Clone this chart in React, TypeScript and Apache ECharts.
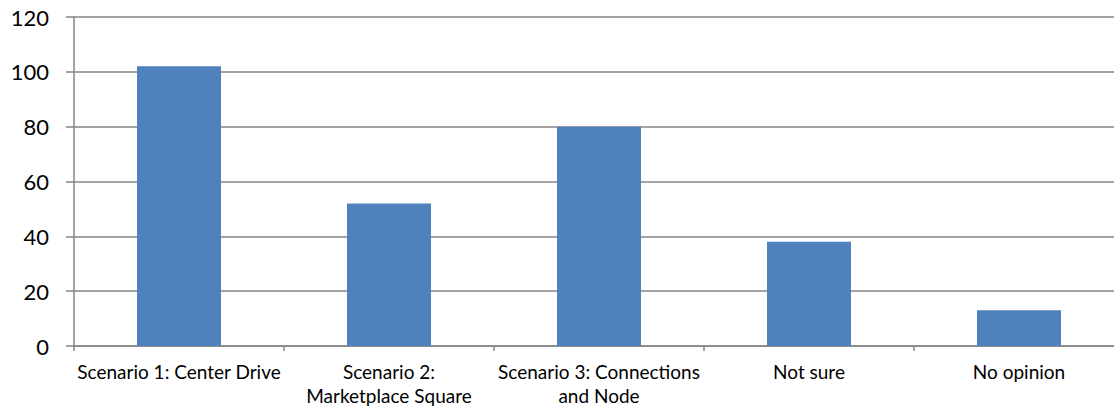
import React, { useEffect, useRef } from "react";
import * as echarts from "echarts";

const categories = [
  "Scenario 1: Center Drive",
  "Scenario 2:\nMarketplace Square",
  "Scenario 3: Connections\nand Node",
  "Not sure",
  "No opinion",
];
const responses = [102, 52, 80, 38, 13];
const yTicks = { min: 0, max: 120, interval: 20 };

export default function App() {
  const ref = useRef<HTMLDivElement>(null);

  useEffect(() => {
    if (!ref.current) return;
    const chart = echarts.init(ref.current, undefined, { renderer: "svg" });
    chart.setOption({
      animation: false,
      backgroundColor: "#ffffff",
      grid: { left: 74, right: 0, top: 17, bottom: 65, containLabel: false },
      xAxis: {
        type: "category",
        data: categories,
        boundaryGap: true,
        axisLine: { lineStyle: { color: "#868686", width: 1.5 } },
        axisTick: { show: true, alignWithLabel: false, length: 5, lineStyle: { color: "#868686", width: 1.5 } },
        axisLabel: {
          interval: 0,
          color: "#000000",
          fontFamily: "Lato",
          fontSize: 19,
          lineHeight: 24,
          margin: 13,
          align: "center",
        },
      },
      yAxis: {
        type: "value",
        min: yTicks.min,
        max: yTicks.max,
        interval: yTicks.interval,
        axisLine: { show: true, lineStyle: { color: "#868686", width: 1.5 } },
        axisTick: { show: true, length: 8, inside: false, lineStyle: { color: "#868686", width: 1.5 } },
        splitLine: { show: true, lineStyle: { color: "#868686", width: 1.5 } },
        axisLabel: {
          color: "#000000",
          fontFamily: "Lato",
          fontSize: 22,
          margin: 25,
        },
      },
      series: [
        {
          type: "bar",
          data: responses,
          barWidth: "40%",
          itemStyle: { color: "#4F81BD" },
        },
      ],
    });
    return () => chart.dispose();
  }, []);

  return (
    <div style={{ position: "fixed", left: 0, top: 0, width: 1114, height: 411, overflow: "hidden", background: "#fff" }}>
      <div ref={ref} style={{ width: 1124, height: 411 }} />
    </div>
  );
}
